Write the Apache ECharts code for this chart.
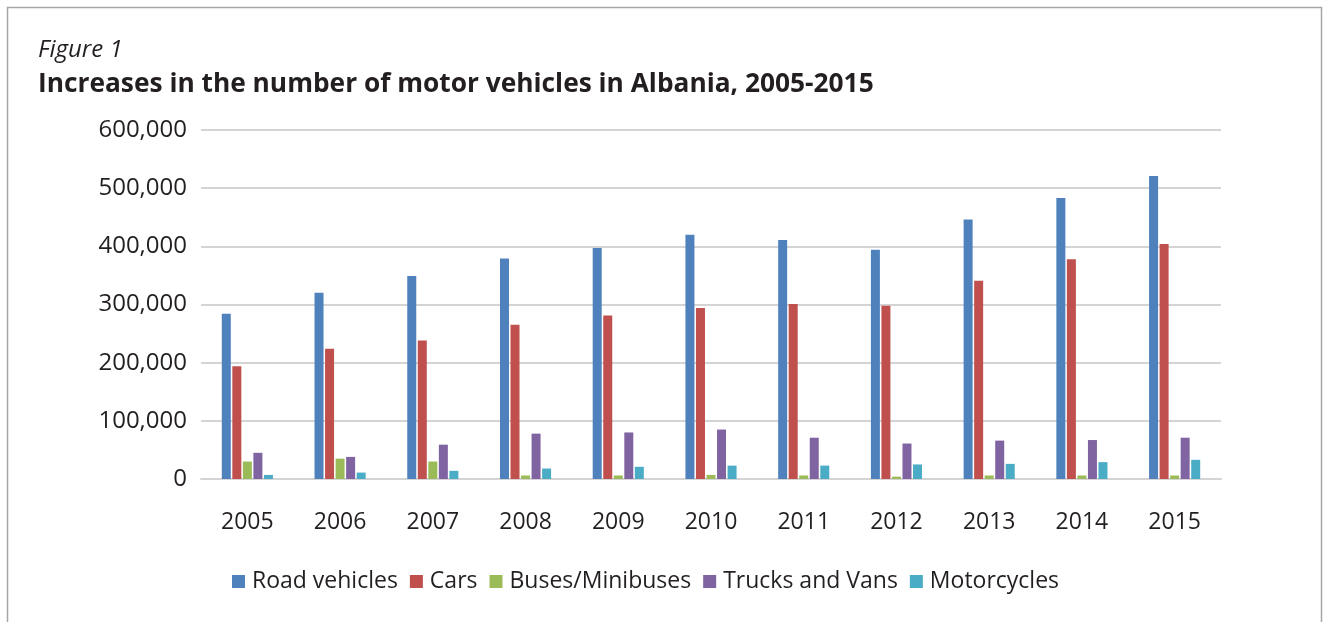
<!DOCTYPE html>
<html>
<head>
<meta charset="utf-8">
<script src="https://cdn.jsdelivr.net/npm/echarts@6/dist/echarts.min.js"></script>
<style>
  html, body { margin: 0; padding: 0; background: #ffffff; }
  #chart { width: 1324px; height: 622px; }
</style>
</head>
<body>
<div id="chart"></div>
<script>
// Motor vehicle counts in Albania by year and vehicle type
const years = ['2005', '2006', '2007', '2008', '2009', '2010', '2011', '2012', '2013', '2014', '2015'];
const roadVehicles = [284000, 320000, 349000, 379000, 397000, 420000, 411000, 394000, 446000, 483000, 521000];
const cars = [194000, 224000, 238000, 265000, 281000, 294000, 301000, 298000, 341000, 378000, 404000];
const buses = [30000, 35000, 30000, 6000, 6000, 7000, 6000, 4000, 6000, 6000, 6000];
const trucksVans = [45000, 38000, 59000, 78000, 80000, 85000, 71000, 61000, 66000, 67000, 71000];
const motorcycles = [7000, 11000, 14000, 18000, 21000, 23000, 23000, 25000, 26000, 29000, 33000];
const seriesNames = ['Road vehicles', 'Cars', 'Buses/Minibuses', 'Trucks and Vans', 'Motorcycles'];
const seriesColors = ['#4f81bd', '#c0504d', '#9bbb59', '#8064a2', '#4bacc6'];
const yTicks = { min: 0, max: 600000, interval: 100000 };

const FONT = '"Open Sans", "Noto Sans", sans-serif';
const TEXT = '#231f20';

const seriesData = [roadVehicles, cars, buses, trucksVans, motorcycles];

const chart = echarts.init(document.getElementById('chart'), null, { renderer: 'canvas' });

chart.setOption({
  animation: false,
  backgroundColor: '#ffffff',
  textStyle: { fontFamily: FONT },
  title: [
    {
      text: 'Figure 1',
      left: 33,
      top: 33,
      textStyle: { fontFamily: FONT, fontStyle: 'italic', fontWeight: 'normal', fontSize: 24, color: TEXT }
    },
    {
      text: 'Increases in the number of motor vehicles in Albania, 2005-2015',
      left: 33,
      top: 67,
      textStyle: { fontFamily: FONT, fontWeight: 'bold', fontSize: 26.3, color: TEXT }
    }
  ],
  graphic: [
    {
      type: 'rect',
      shape: { x: 7.5, y: 7.5, width: 1314, height: 700 },
      style: { fill: 'none', stroke: '#a6a6a6', lineWidth: 1.5 },
      silent: true
    }
  ],
  legend: {
    left: 227,
    top: 565,
    itemWidth: 13,
    itemHeight: 13,
    itemGap: 12,
    icon: 'rect',
    textStyle: { fontFamily: FONT, fontSize: 23, color: TEXT, padding: [0, 0, 0, 2] },
    data: seriesNames
  },
  grid: { left: 201, right: 103, top: 130, bottom: 143, containLabel: false },
  xAxis: {
    type: 'category',
    data: years,
    axisLine: { lineStyle: { color: '#d4d4d4', width: 2 } },
    axisTick: { show: false },
    axisLabel: { fontFamily: FONT, fontSize: 23, color: TEXT, margin: 32 }
  },
  yAxis: {
    type: 'value',
    min: yTicks.min,
    max: yTicks.max,
    interval: yTicks.interval,
    axisLine: { show: false },
    axisTick: { show: false },
    splitLine: { lineStyle: { color: '#d4d4d4', width: 2 } },
    axisLabel: {
      fontFamily: FONT,
      fontSize: 24,
      color: TEXT,
      margin: 14,
      formatter: v => v.toLocaleString('en-US')
    }
  },
  series: seriesNames.map((name, i) => ({
    name,
    type: 'bar',
    data: seriesData[i],
    barWidth: 9,
    barGap: '17%',
    itemStyle: { color: seriesColors[i] }
  }))
});
</script>
</body>
</html>
